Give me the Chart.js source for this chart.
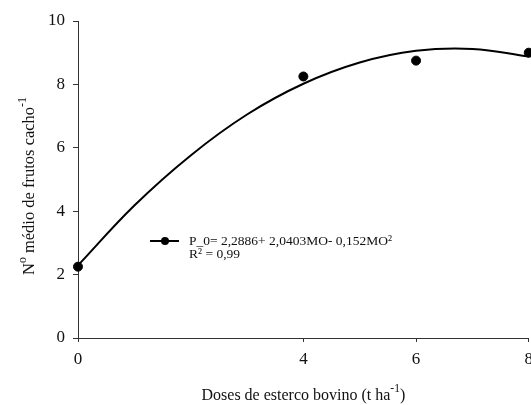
<!DOCTYPE html>
<html>
<head>
<meta charset="utf-8">
<script src="https://cdn.jsdelivr.net/npm/chart.js@4.4.1/dist/chart.umd.min.js"></script>
<style>
  html, body { margin: 0; padding: 0; background: #fff; overflow: hidden; }
  #wrap { position: relative; width: 540px; height: 405px; }
</style>
</head>
<body>
<div id="wrap"><canvas id="chart"></canvas></div>
<script>
// observed means
const doses = [0, 4, 6, 8];
const fruits = [2.25, 8.25, 8.75, 9.0];

// fitted curve
const curveX = [0, 1, 2, 3, 4, 5, 6, 7, 8];
const curveY = [2.29, 4.18, 5.76, 7.05, 8.02, 8.69, 9.06, 9.12, 8.88];

const xTicks = [0, 4, 6, 8];
const yTicks = [0, 2, 4, 6, 8, 10];

const serif = '"Liberation Serif", "DejaVu Serif", serif';

// draw text pieces, some raised as superscripts
function drawRich(ctx, parts, x, y, size, align) {
  const supSize = size * 0.72;
  let total = 0;
  parts.forEach(p => {
    ctx.font = (p.sup ? supSize : size) + 'px ' + serif;
    total += ctx.measureText(p.t).width;
  });
  let cx = align === 'center' ? x - total / 2 : x;
  parts.forEach(p => {
    ctx.font = (p.sup ? supSize : size) + 'px ' + serif;
    ctx.fillText(p.t, cx, p.sup ? y - size * 0.5 : y);
    cx += ctx.measureText(p.t).width;
  });
}

const titlesPlugin = {
  id: 'titles',
  afterDraw(chart) {
    const ctx = chart.ctx;
    const area = chart.chartArea;
    ctx.save();
    ctx.fillStyle = '#111';
    ctx.textBaseline = 'alphabetic';
    ctx.textAlign = 'left';

    // x title
    drawRich(ctx, [
      { t: 'Doses de esterco bovino (t ha' },
      { t: '-1', sup: true },
      { t: ')' }
    ], (area.left + area.right) / 2, 400, 16, 'center');

    // y title
    ctx.save();
    ctx.translate(34, 186);
    ctx.rotate(-Math.PI / 2);
    drawRich(ctx, [
      { t: 'N' },
      { t: 'o', sup: true },
      { t: ' médio de frutos cacho' },
      { t: '-1', sup: true }
    ], 0, 0, 16.5, 'center');
    ctx.restore();

    // legend
    ctx.strokeStyle = '#000';
    ctx.lineWidth = 2;
    ctx.beginPath();
    ctx.moveTo(150, 241);
    ctx.lineTo(179, 241);
    ctx.stroke();
    ctx.fillStyle = '#000';
    ctx.beginPath();
    ctx.arc(165, 241, 4, 0, Math.PI * 2);
    ctx.fill();
    ctx.fillStyle = '#111';
    ctx.font = '13.5px ' + serif;
    ctx.fillText('P_0= 2,2886+ 2,0403MO- 0,152MO²', 189, 245);
    ctx.fillText('R² = 0,99', 189, 258);
    ctx.restore();
  }
};

new Chart(document.getElementById('chart'), {
  data: {
    datasets: [
      {
        type: 'line',
        label: 'ajuste',
        data: curveX.map((x, i) => ({ x: x, y: curveY[i] })),
        borderColor: '#000',
        borderWidth: 2,
        pointRadius: 0,
        tension: 0.4,
        fill: false
      },
      {
        type: 'scatter',
        label: 'P_0',
        data: doses.map((x, i) => ({ x: x, y: fruits[i] })),
        backgroundColor: '#000',
        borderColor: '#000',
        pointRadius: 4.5
      }
    ]
  },
  options: {
    responsive: true,
    maintainAspectRatio: false,
    animation: false,
    clip: false,
    layout: { padding: { top: 21, left: 0, right: 0, bottom: 0 } },
    plugins: {
      legend: { display: false },
      tooltip: { enabled: false }
    },
    scales: {
      x: {
        type: 'linear',
        min: 0,
        max: 8,
        afterBuildTicks: (s) => { s.ticks = xTicks.map(v => ({ value: v })); },
        afterFit: (s) => { s.height = 67; },
        grid: { display: true, drawOnChartArea: false, tickLength: 4, color: '#333' },
        border: { color: '#333', width: 1 },
        ticks: { color: '#111', font: { family: serif, size: 17 }, padding: 7, maxRotation: 0 }
      },
      y: {
        min: 0,
        max: 10,
        afterBuildTicks: (s) => { s.ticks = yTicks.map(v => ({ value: v })); },
        afterFit: (s) => { s.width = 78; },
        grid: { display: true, drawOnChartArea: false, tickLength: 5, color: '#333' },
        border: { color: '#333', width: 1 },
        ticks: { color: '#111', font: { family: serif, size: 17 }, padding: 8 }
      }
    }
  },
  plugins: [titlesPlugin]
});
</script>
</body>
</html>
